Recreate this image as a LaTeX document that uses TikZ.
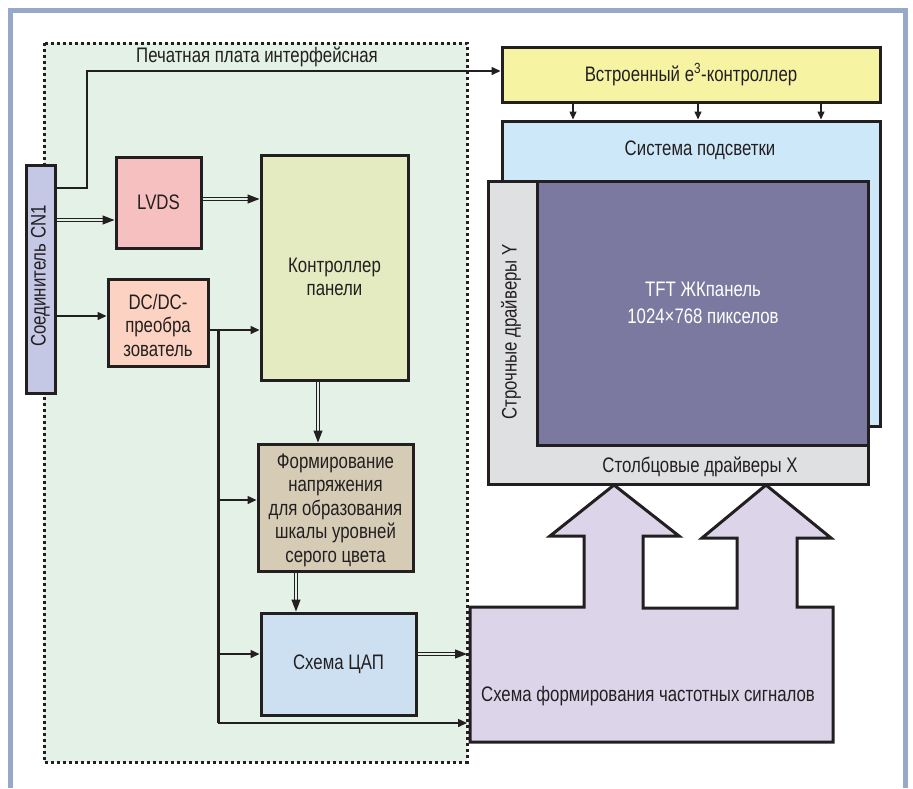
\documentclass[tikz,border=0pt]{standalone}
\usepackage{fontspec}
\setmainfont{Liberation Sans}[FakeStretch=0.8]
\usetikzlibrary{arrows.meta}

\definecolor{frame}{HTML}{97A9C9}
\definecolor{board}{HTML}{E3F1E6}
\definecolor{ink}{HTML}{231F20}
\definecolor{cnfill}{HTML}{C5C8E5}
\definecolor{lvdsfill}{HTML}{F7C0C0}
\definecolor{dcfill}{HTML}{FCD3C2}
\definecolor{ctrlfill}{HTML}{E4EBC0}
\definecolor{formfill}{HTML}{D6CCB6}
\definecolor{dacfill}{HTML}{CCE0F2}
\definecolor{embfill}{HTML}{F6F4A3}
\definecolor{lightfill}{HTML}{CDE9F9}
\definecolor{drvfill}{HTML}{DFE0E2}
\definecolor{tftfill}{HTML}{7B799F}
\definecolor{freqfill}{HTML}{DCD4E8}

\begin{document}
\begin{tikzpicture}[x=1pt,y=-1pt,
  box/.style={draw=ink, line width=3pt, inner sep=0pt, align=center,
    text=ink, font=\fontsize{21}{23.5}\selectfont},
  txt/.style={inner sep=0pt, align=center, text=ink,
    font=\fontsize{21}{23.5}\selectfont},
  wire/.style={draw=ink, line width=1.5pt},
  arr/.style={wire, -{Triangle[length=9pt,width=8pt]}},
  dbl/.style={draw=ink, line width=1.1pt, double=board, double distance=1.8pt,
    -{Triangle[length=12pt,width=9pt]}},
  bus/.style={draw=ink, line width=3pt}]

\useasboundingbox (0,0) rectangle (913,788);
\fill[white] (0,0) rectangle (913,788);

% outer frame
\draw[frame, line width=5pt] (10.5,788) -- (10.5,10.5) -- (905.5,10.5) -- (905.5,788);

% interface board
\draw[fill=board, draw=ink, line width=3pt, dash pattern=on 3pt off 3pt]
  (44,43) rectangle (467,762);
\node[txt] (boardtitle) at (257,57) {Печатная плата интерфейсная};

% board blocks
\node[box, fill=cnfill, minimum width=29pt, minimum height=228pt] (cn1) at (40.5,279) {};
\node[txt, rotate=90] (cn1text) at (40.5,276) {Соединитель CN1};
\node[box, fill=lvdsfill, minimum width=85pt, minimum height=91pt] (lvds) at (158.5,202.5) {LVDS};
\node[box, fill=dcfill, minimum width=100pt, minimum height=87pt] (dcdc) at (158,322.5) {};
\node[txt] (dcdctext) at (158,325) {DC/DC-\\преобра\\зователь};
\node[box, fill=ctrlfill, minimum width=147pt, minimum height=225pt] (ctrl) at (334.5,267.5) {};
\node[txt] (ctrltext) at (334.5,277) {Контроллер\\панели};
\node[box, fill=formfill, minimum width=155pt, minimum height=127pt] (form) at (335.5,507.5) {};
\node[txt] (formtext) at (335.5,510)
  {Формирование\\напряжения\\для образования\\шкалы уровней\\серого цвета};
\node[box, fill=dacfill, minimum width=155pt, minimum height=102pt] (dac) at (338.5,664) {Схема ЦАП};

% display side
\node[box, fill=embfill, minimum width=378pt, minimum height=55pt] (emb) at (691,74.5) {Встроенный e\textsuperscript{3}-контроллер};
\node[box, fill=lightfill, minimum width=378pt, minimum height=305pt] (light) at (691,273.5) {};
\node[txt] (lighttext) at (700,150) {Система подсветки};
\node[box, fill=drvfill, minimum width=380pt, minimum height=303pt] (drv) at (678,332.5) {};
\node[box, fill=tftfill, minimum width=331pt, minimum height=264pt] (tft) at (702.5,313) {};
\node[txt, text=white, font=\fontsize{21}{27}\selectfont] (tfttext) at (703,303)
  {TFT ЖКпанель\\1024×768 пикселов};
\node[txt, rotate=90] (drvy) at (511,332) {Строчные драйверы Y};
\node[txt] (drvx) at (700,467) {Столбцовые драйверы X};

% frequency signal block with two wide arrows into the column drivers
\coordinate (fbl) at (470,742);
\coordinate (fbr) at (833,742);
\draw[fill=freqfill, draw=ink, line width=3pt, line join=miter]
  (470,607) -- (584,607) -- (584,536) -- (550,536) -- (614,485) -- (679,536)
  -- (643,536) -- (643,608) -- (737,608) -- (737,538) -- (702,538) -- (766,485)
  -- (831,538) -- (797,538) -- (797,607) -- (833,607) -- (fbr) -- (fbl) -- cycle;
\node[txt] (freq) at (648,696) {Схема формирования частотных сигналов};
\coordinate (freqin) at (467,654);

% bend points
\coordinate (up1) at (87,188);
\coordinate (up2) at (87,71);
\coordinate (bustop) at (218,330);
\coordinate (busbot) at (218,723);

% connectors
\draw[arr] (cn1.east |- up1) -- (up1) -- (up2) -- (emb.west |- up2);
\draw[dbl] (cn1.east |- 0,220) -- (lvds.west |- 0,220);
\draw[dbl] (lvds.east |- 0,199) -- (ctrl.west |- 0,199);
\draw[arr] (cn1.east |- 0,316) -- (dcdc.west |- 0,316);
\draw[arr] (dcdc.east |- bustop) -- (ctrl.west |- bustop);
\draw[bus] (bustop) -- (busbot);
\draw[arr] (218,500) -- (form.west |- 0,500);
\draw[arr] (218,654) -- (dac.west |- 0,654);
\draw[arr] (busbot) -- (freqin |- busbot);
\draw[dbl] (ctrl.south -| 318,0) -- (form.north -| 318,0);
\draw[dbl] (form.south -| 296,0) -- (dac.north -| 296,0);
\draw[dbl] (dac.east |- freqin) -- (freqin);
\foreach \xx in {573,698,821}
  \draw[arr, line width=1.3pt, -{Triangle[length=8pt,width=7pt]}] (emb.south -| \xx,0) -- (light.north -| \xx,0);
\end{tikzpicture}
\end{document}
